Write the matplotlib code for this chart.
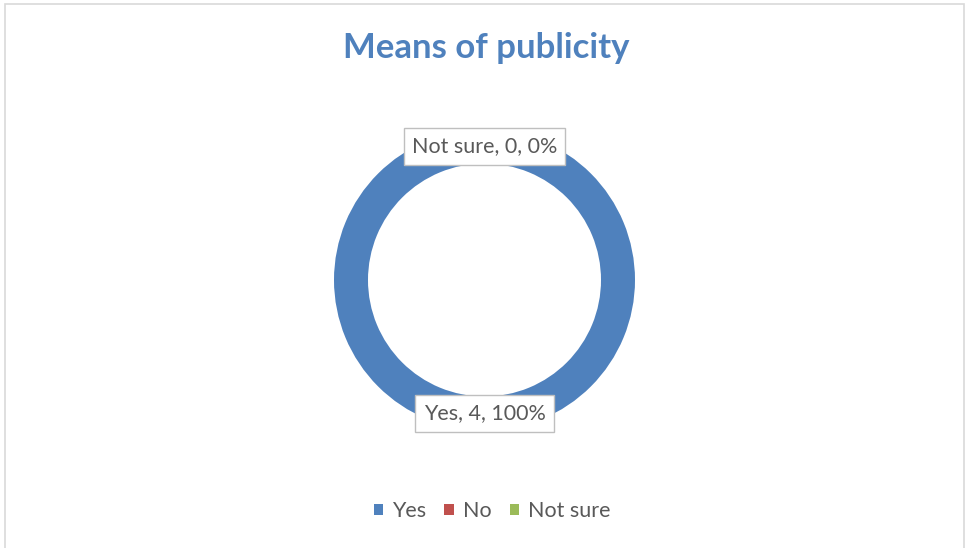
import matplotlib
matplotlib.use("Agg")
import matplotlib.pyplot as plt
from matplotlib.patches import Patch, Rectangle
import numpy as np

title = "Means of publicity"
categories = ["Yes", "No", "Not sure"]
counts = [4, 0, 0]
colors = ["#4F81BD", "#C0504D", "#9BBB59"]

W, H = 966, 548
fig = plt.figure(figsize=(W / 100, H / 100), dpi=100)
fig.patch.set_facecolor("white")

# chart-area border
fig.add_artist(Rectangle((4.5 / W, -0.01), (964 - 4.5) / W, 1 - 3.5 / H + 0.01,
                         transform=fig.transFigure, fill=False,
                         edgecolor="#D9D9D9", linewidth=1.2))

font = ["Lato", "DejaVu Sans"]

fig.text(486 / W, 1 - 47.5 / H, title, ha="center", va="center",
         fontsize=25, fontweight="bold", color="#4F81BD", family=font)

# donut placement in pixels
cx, cy, R = 484.5, 280, 150.5
ax = fig.add_axes([(cx - R) / W, (H - cy - R) / H, 2 * R / W, 2 * R / H])

ring = 34 / R
ax.pie(counts, colors=colors, startangle=90, counterclock=False, radius=1,
       wedgeprops=dict(width=ring, edgecolor="white", linewidth=0))
ax.set_xlim(-1, 1)
ax.set_ylim(-1, 1)
ax.set_aspect("equal")
ax.axis("off")

total = sum(counts)
start = 90.0
mid_r = 1 - ring / 2
for cat, val in zip(categories, counts):
    sweep = 360.0 * val / total
    mid = np.deg2rad(start - sweep / 2)
    start -= sweep
    if cat == "No":
        continue  # hidden under the coincident "Not sure" label
    pct = 100.0 * val / total
    ax.text(mid_r * np.cos(mid), mid_r * np.sin(mid),
            f"{cat}, {val}, {pct:.0f}%", ha="center", va="center",
            fontsize=15.5, color="#595959", family=font, zorder=5,
            bbox=dict(boxstyle="square,pad=0.38", facecolor="white",
                      edgecolor="#BFBFBF", linewidth=1))

handles = [Patch(facecolor=c, edgecolor="none") for c in colors]
fig.legend(handles, categories, loc="center", bbox_to_anchor=(492 / W, 1 - 511 / H),
           ncol=3, frameon=False, handlelength=0.45, handleheight=0.45,
           handletextpad=0.4, columnspacing=0.85,
           prop=dict(family=font, size=15.5), labelcolor="#595959")

fig.savefig("out.png", dpi=100, facecolor="white")
